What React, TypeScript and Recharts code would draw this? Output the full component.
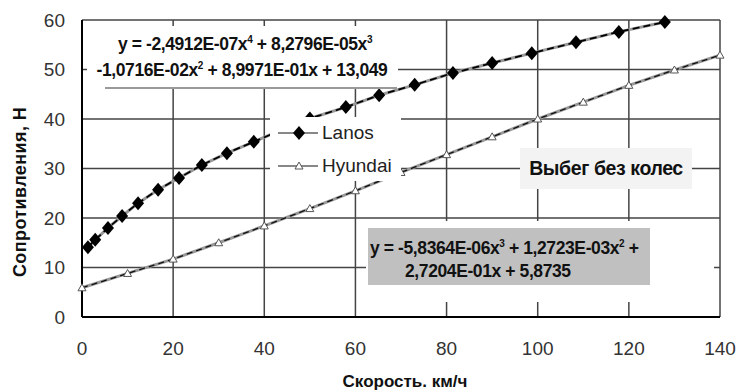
import { LineChart, Line, XAxis, YAxis, CartesianGrid } from 'recharts'

const xTicks = [0, 20, 40, 60, 80, 100, 120, 140]
const yTicks = [0, 10, 20, 30, 40, 50, 60]

// Lanos — measured speeds are irregular
const lanosX = [1.3, 2.9, 5.7, 8.8, 12.3, 16.7, 21.3, 26.3, 31.8, 37.7, 43.8, 50, 57.9, 65.2, 73, 81.4, 90, 98.7, 108.4, 117.8, 127.9]
const lanosY = [14.1, 15.6, 18.0, 20.4, 23.0, 25.7, 28.1, 30.7, 33.1, 35.4, 37.8, 40.1, 42.4, 44.8, 46.9, 49.3, 51.3, 53.3, 55.5, 57.6, 59.6]

// Hyundai — every 10 km/h
const hyundaiX = [0, 10, 20, 30, 40, 50, 60, 70, 80, 90, 100, 110, 120, 130, 140]
const hyundaiY = [5.9, 8.8, 11.7, 15.0, 18.4, 21.9, 25.5, 29.2, 32.8, 36.4, 40.0, 43.4, 46.8, 49.9, 52.9]

const lanos = lanosX.map((x, i) => ({ x, y: lanosY[i] }))
const hyundai = hyundaiX.map((x, i) => ({ x, y: hyundaiY[i] }))

const font = "'Liberation Sans', Arial, sans-serif"

const Diamond = (props: any) => {
  const { cx, cy, index } = props
  if (cx == null || cy == null) return <g key={index} />
  return (
    <polygon
      key={index}
      points={`${cx},${cy - 7} ${cx + 6},${cy} ${cx},${cy + 7} ${cx - 6},${cy}`}
      fill="#000"
    />
  )
}

const Triangle = (props: any) => {
  const { cx, cy, index } = props
  if (cx == null || cy == null) return <g key={index} />
  return (
    <polygon
      key={index}
      points={`${cx},${cy - 4} ${cx + 4},${cy + 3} ${cx - 4},${cy + 3}`}
      fill="#fff"
      stroke="#555"
      strokeWidth={1}
    />
  )
}

const eqText: React.CSSProperties = {
  position: 'absolute',
  fontFamily: font,
  fontWeight: 'bold',
  fontSize: 17.5,
  color: '#111',
  letterSpacing: -0.4,
  whiteSpace: 'nowrap',
  lineHeight: '18px',
}

const sup: React.CSSProperties = { fontSize: 10, verticalAlign: 7, lineHeight: 0 }

export default function App() {
  return (
    <div style={{ position: 'absolute', left: 0, top: 0, width: 739, height: 392, background: '#fff' }}>
      <LineChart width={739} height={392} data={hyundai} margin={{ top: 20, right: 19, bottom: 45, left: 32 }}>
        <CartesianGrid stroke="#444" strokeWidth={1.5} horizontalValues={yTicks} verticalValues={xTicks} />
        <XAxis
          type="number"
          dataKey="x"
          domain={[0, 140]}
          ticks={xTicks}
          height={30}
          tickSize={0}
          tickMargin={25}
          axisLine={{ stroke: '#000', strokeWidth: 2 }}
          tick={{ fontSize: 19, fill: '#333', fontFamily: font }}
        />
        <YAxis
          type="number"
          domain={[0, 60]}
          ticks={yTicks}
          width={50}
          tickSize={0}
          tickMargin={17}
          axisLine={{ stroke: '#000', strokeWidth: 2 }}
          tick={{ fontSize: 19, fill: '#333', fontFamily: font }}
        />
        <Line data={hyundai} dataKey="y" stroke="#999" strokeWidth={3} dot={false} isAnimationActive={false} />
        <Line
          data={hyundai}
          dataKey="y"
          stroke="#111"
          strokeWidth={1.3}
          strokeDasharray="6 4"
          dot={Triangle}
          isAnimationActive={false}
        />
        <Line data={lanos} dataKey="y" stroke="#999" strokeWidth={3} dot={false} isAnimationActive={false} />
        <Line
          data={lanos}
          dataKey="y"
          stroke="#000"
          strokeWidth={1.8}
          strokeDasharray="7 4"
          dot={Diamond}
          isAnimationActive={false}
        />
      </LineChart>

      {/* axis titles */}
      <div
        style={{
          position: 'absolute',
          left: 20,
          top: 192,
          transform: 'translate(-50%, -50%) rotate(-90deg)',
          fontFamily: font,
          fontWeight: 'bold',
          fontSize: 18,
          letterSpacing: 0.4,
          color: '#111',
          whiteSpace: 'nowrap',
        }}
      >
        Сопротивления, Н
      </div>
      <div
        style={{
          position: 'absolute',
          left: 405,
          top: 382,
          transform: 'translate(-50%, -50%)',
          fontFamily: font,
          fontWeight: 'bold',
          fontSize: 17,
          color: '#111',
          whiteSpace: 'nowrap',
        }}
      >
        Скорость. км/ч
      </div>

      {/* Lanos trend equation */}
      <div style={{ position: 'absolute', left: 87, top: 26, width: 311, height: 61, background: '#fff' }} />
      <div style={{ position: 'absolute', left: 105, top: 87, width: 292, height: 2, background: '#9a9a9a' }} />
      <div style={{ ...eqText, left: 245, top: 35, transform: 'translateX(-50%)' }}>
        y = -2,4912E-07x<span style={sup}>4</span> + 8,2796E-05x<span style={sup}>3</span>
      </div>
      <div style={{ ...eqText, left: 242, top: 61, transform: 'translateX(-50%)' }}>
        -1,0716E-02x<span style={sup}>2</span> + 8,9971E-01x + 13,049
      </div>

      {/* legend */}
      <div style={{ position: 'absolute', left: 270, top: 117, width: 131, height: 64, background: '#fff' }} />
      <svg style={{ position: 'absolute', left: 270, top: 117 }} width={60} height={64}>
        <line x1={8} y1={16} x2={48} y2={16} stroke="#888" strokeWidth={2} />
        <polygon points="29,9 35,16 29,23 23,16" fill="#000" />
        <line x1={8} y1={49} x2={48} y2={49} stroke="#888" strokeWidth={2} />
        <polygon points="29,45 33,52 25,52" fill="#fff" stroke="#555" strokeWidth={1} />
      </svg>
      <div style={{ position: 'absolute', left: 322, top: 122, fontFamily: font, fontSize: 19, color: '#222', lineHeight: '22px' }}>
        Lanos
      </div>
      <div style={{ position: 'absolute', left: 322, top: 155, fontFamily: font, fontSize: 19, color: '#222', lineHeight: '22px' }}>
        Hyundai
      </div>

      {/* annotation */}
      <div
        style={{
          position: 'absolute',
          left: 520,
          top: 148,
          width: 172,
          height: 41,
          background: '#f3f3f3',
          fontFamily: font,
          fontWeight: 'bold',
          fontSize: 19.5,
          letterSpacing: -0.4,
          color: '#111',
          display: 'flex',
          alignItems: 'center',
          justifyContent: 'center',
          whiteSpace: 'nowrap',
        }}
      >
        Выбег без колес
      </div>

      {/* Hyundai trend equation */}
      <div style={{ position: 'absolute', left: 366, top: 221, width: 348, height: 81, background: '#fff' }} />
      <div style={{ position: 'absolute', left: 368, top: 228, width: 282, height: 57, background: '#c0c0c0' }} />
      <div style={{ ...eqText, left: 370, top: 239 }}>
        y = -5,8364E-06x<span style={sup}>3</span> + 1,2723E-03x<span style={sup}>2</span> +
      </div>
      <div style={{ ...eqText, left: 405, top: 262 }}>
        2,7204E-01x + 5,8735
      </div>
    </div>
  )
}
